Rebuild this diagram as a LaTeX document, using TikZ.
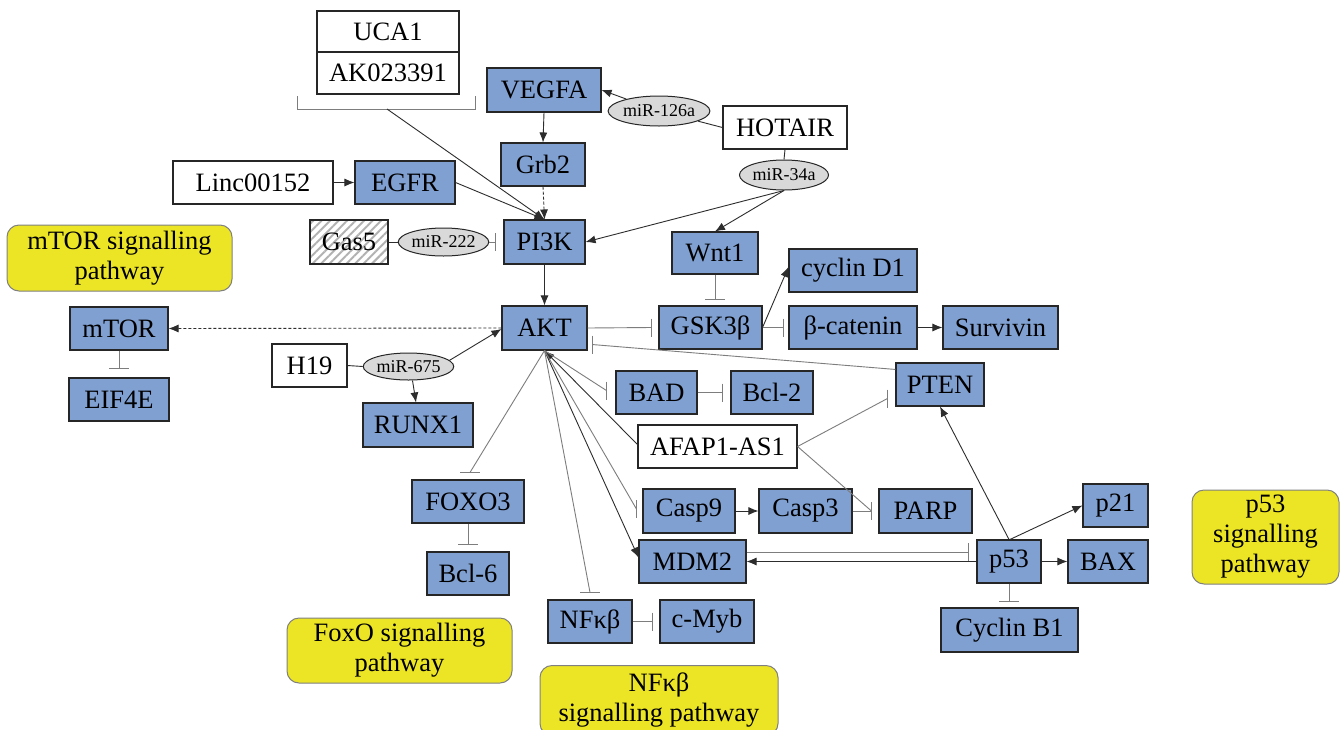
\documentclass[tikz,border=0pt]{standalone}
\usepackage{fontspec}
\setmainfont{Liberation Serif}
\usetikzlibrary{arrows.meta,calc,patterns.meta,shapes.geometric}
\definecolor{boxblue}{RGB}{128,160,210}
\definecolor{pwyellow}{RGB}{236,229,38}
\definecolor{mirgray}{RGB}{217,217,217}
\definecolor{linedark}{RGB}{45,45,45}
\definecolor{inhgray}{RGB}{125,125,125}
\newcommand\inhV[2]{\coordinate (ib) at (#2); \draw[inhline] (#1) -- (ib); \draw[inhbar] ($(ib)+(0,-9)$) -- ($(ib)+(0,9)$);}
\newcommand\inhH[2]{\coordinate (ib) at (#2); \draw[inhline] (#1) -- (ib); \draw[inhbar] ($(ib)+(-10,0)$) -- ($(ib)+(10,0)$);}
\begin{document}
\begin{tikzpicture}[x=1pt,y=-1pt,
 sz/.style 2 args={minimum width=#1pt, minimum height=#2pt},
 base/.style={draw=black!85, line width=1.1pt, inner sep=0pt, font=\fontsize{26.5}{29}\selectfont},
 gene/.style={base, fill=boxblue},
 lnc/.style={base, fill=white},
 mir/.style={ellipse, draw=black!85, line width=1pt, fill=mirgray, inner sep=0pt, font=\fontsize{18}{20}\selectfont},
 pathway/.style={draw=black!50, line width=1pt, fill=pwyellow, rounded corners=12pt, inner sep=0pt, align=center, font=\fontsize{26.5}{30}\selectfont},
 act/.style={draw=linedark, line width=0.9pt, -{Latex[length=10pt,width=8pt]}},
 conn/.style={draw=linedark, line width=0.9pt},
 inhline/.style={draw=inhgray, line width=0.9pt},
 inhbar/.style={draw=inhgray, line width=1.1pt},
 dashact/.style={act, dash pattern=on 3pt off 2pt},
]
\useasboundingbox (0,0) rectangle (1342,729);
\fill[white] (0,0) rectangle (1342,729);

% pathway boxes
\node[pathway, sz={225}{66}] (mtorpw) at (119.5,258) {mTOR signalling\\pathway};
\node[pathway, sz={225}{65}] (foxopw) at (399.5,650.5) {FoxO signalling\\pathway};
\node[pathway, sz={238}{70}] (nfkbpw) at (659,700.5) {NFκβ\\signalling pathway};
\node[pathway, sz={147}{94}] (p53pw) at (1265.5,537) {p53\\signalling\\pathway};

% lncRNA boxes
\node[lnc, sz={142}{41}] (uca) at (388,31.5) {UCA1};
\node[lnc, sz={142}{42}] (ak) at (388,73) {AK023391};
\node[lnc, sz={160}{43}] (linc) at (253,182.5) {Linc00152};
\node[base, sz={78}{44}, pattern={Lines[angle=45,distance=6pt,line width=2pt]}, pattern color=black!30] (gas5) at (349,242) {Gas5};
\node[lnc, sz={124}{43}] (hotair) at (785,127.5) {HOTAIR};
\node[lnc, sz={75}{43}] (h19) at (309.5,365.5) {H19};
\node[lnc, sz={159}{43}] (afap) at (717.5,446.5) {AFAP1-AS1};

% miRNAs
\node[mir, sz={87}{28}] (mir222) at (443.5,242) {miR-222};
\node[mir, sz={98}{30}] (mir126) at (659,111) {miR-126a};
\node[mir, sz={86}{30}] (mir34) at (784,175) {miR-34a};
\node[mir, sz={87}{27}] (mir675) at (408.5,366.5) {miR-675};

% genes
\node[gene, sz={114}{44}] (vegfa) at (544,90) {VEGFA};
\node[gene, sz={84}{43}] (grb2) at (543,164.5) {Grb2};
\node[gene, sz={100}{43}] (egfr) at (405,182.5) {EGFR};
\node[gene, sz={81}{44}] (pi3k) at (544.5,242) {PI3K};
\node[gene, sz={86}{42}] (wnt1) at (715,253) {Wnt1};
\node[gene, sz={128}{43}] (cycd1) at (853,270.5) {cyclin D1};
\node[gene, sz={103}{43}] (gsk) at (710.5,327.5) {GSK3β};
\node[gene, sz={128}{43}] (bcat) at (853,327.5) {β-catenin};
\node[gene, sz={115}{43}] (surv) at (1000.5,327.5) {Survivin};
\node[gene, sz={85}{44}] (akt) at (544.5,328) {AKT};
\node[gene, sz={98}{43}] (mtor) at (119,328.5) {mTOR};
\node[gene, sz={100}{43}] (eif) at (119,399.5) {EIF4E};
\node[gene, sz={110}{44}] (runx) at (418,425) {RUNX1};
\node[gene, sz={81}{43}] (bad) at (656.5,392.5) {BAD};
\node[gene, sz={82}{43}] (bcl2) at (772,392.5) {Bcl-2};
\node[gene, sz={88}{43}] (pten) at (940,384.5) {PTEN};
\node[gene, sz={92}{44}] (casp9) at (689,511) {Casp9};
\node[gene, sz={93}{44}] (casp3) at (805.5,511) {Casp3};
\node[gene, sz={93}{44}] (parp) at (925.5,511) {PARP};
\node[gene, sz={107}{43}] (mdm2) at (692.5,561.5) {MDM2};
\node[gene, sz={64}{43}] (p53) at (1009,561.5) {p53};
\node[gene, sz={80}{43}] (bax) at (1108,561.5) {BAX};
\node[gene, sz={65}{43}] (p21) at (1115.5,505.5) {p21};
\node[gene, sz={137}{44}] (cycb1) at (1009.5,630) {Cyclin B1};
\node[gene, sz={112}{43}] (foxo3) at (468,501.5) {FOXO3};
\node[gene, sz={82}{43}] (bcl6) at (468,573.5) {Bcl-6};
\node[gene, sz={84}{43}] (nfkb) at (590,621.5) {NFκβ};
\node[gene, sz={94}{43}] (cmyb) at (707,621.5) {c-Myb};

% bracket round UCA1 / AK023391
\draw[inhline] (297,96) -- (297,109) -- (475,109) -- (475,96);
\coordinate (brk) at (387,109);

% activations
\draw[act] (brk) -- (pi3k.north);
\draw[act] (egfr.east) -- (pi3k.north);
\draw[dashact] (grb2.south) -- (pi3k.north);
\draw[act] (vegfa.south) -- (grb2.north);
\draw[act] (linc.east) -- (egfr.west);
\draw[conn] (gas5.east) -- (mir222.west);
\draw[conn] (hotair.west) -- (mir126);
\draw[act] (mir126) -- (vegfa.east);
\draw[conn] (hotair.south) -- (mir34.north);
\draw[act] (mir34.south) -- (pi3k.east);
\draw[act] (mir34.south) -- (wnt1.north);
\draw[act] (pi3k.south) -- (akt.north);
\draw[act] (gsk.east) -- ($(cycd1.west)+(0,-3.5)$);
\draw[act] (bcat.east) -- (surv.west);
\draw[dashact] (akt.west) -- (mtor.east);
\draw[conn] (h19.east) -- (mir675.west);
\draw[act] ($(mir675.east)+(-5,-6)$) -- ($(akt.west)+(0,1)$);
\draw[act] ($(mir675.south)+(4,0)$) -- ($(runx.north)+(-2,0)$);
\draw[act] ($(afap.west)+(0,-2)$) -- (akt.south);
\draw[act] (akt.south) -- ($(mdm2.west)+(0,-4)$);
\draw[act] (casp9.east) -- (casp3.west);
\draw[act] (p53.east) -- (bax.west);
\draw[act] ($(p53.north)+(1,0)$) -- (p21.west);
\draw[act] (p53.north) -- (pten.south);
\draw[act] (p53.west) -- (mdm2.east);

% inhibitions
\inhV{mir222.east}{$(pi3k.west)+(-8,0)$}
\inhH{wnt1.south}{$(wnt1.south |- gsk.north)+(0,-6)$}
\inhV{gsk.east}{$(bcat.west)+(-5,0)$}
\inhV{akt.east}{$(gsk.west)+(-7,0)$}
\inhV{$(pten.north west)+(0,7)$}{$(akt.south east)+(5,-6)$}
\inhV{akt.south}{$(bad.west)+(-9,-2)$}
\inhV{bad.east}{$(bcl2.west)+(-8,0)$}
\inhV{afap.east}{$(pten.west)+(-8,14)$}
\inhV{afap.east}{$(parp.west)+(-7,0)$}
\inhV{casp3.east}{$(parp.west)+(-7,0)$}
\inhV{$(mdm2.east)+(0,-9.5)$}{$(p53.west)+(-8,-9.5)$}
\inhH{p53.south}{$(p53.south |- cycb1.north)+(0,-6)$}
\inhH{mtor.south}{$(eif.north)+(0,-9)$}
\inhH{akt.south}{$(foxo3.north)+(2,-7)$}
\inhH{foxo3.south}{$(bcl6.north)+(0,-7)$}
\inhH{akt.south}{$(nfkb.north)+(0,-7)$}
\inhV{nfkb.east}{$(cmyb.west)+(-7,0)$}
\inhV{akt.south}{$(casp9.west)+(-6,-2)$}
\end{tikzpicture}
\end{document}
